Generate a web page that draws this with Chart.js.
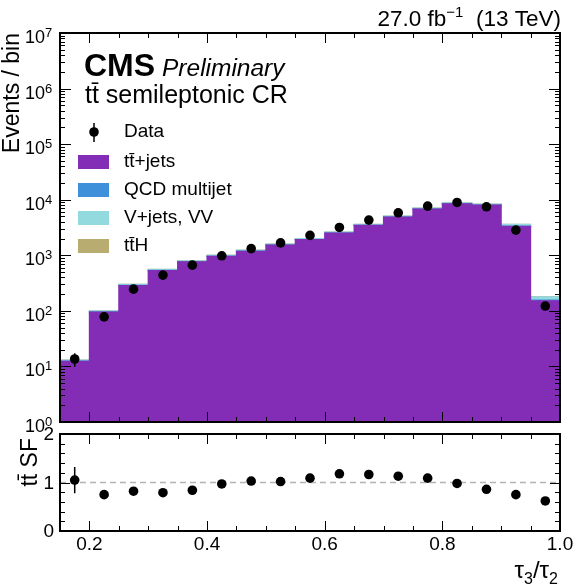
<!DOCTYPE html>
<html>
<head>
<meta charset="utf-8">
<script src="https://cdn.jsdelivr.net/npm/chart.js@4.4.1/dist/chart.umd.min.js"></script>
<style>
  body { margin: 0; background: #fff; }
  #wrap { position: relative; width: 580px; height: 588px; }
  canvas { position: absolute; left: 0; top: 0; }
</style>
</head>
<body>
<div id="wrap">
  <canvas id="main" width="580" height="588"></canvas>
  <canvas id="ratio" width="580" height="588"></canvas>
</div>
<script>
// tau3/tau2 bins, width 0.05, from 0.15 to 1.0
const binCenters = [0.175, 0.225, 0.275, 0.325, 0.375, 0.425, 0.475, 0.525, 0.575,
                    0.625, 0.675, 0.725, 0.775, 0.825, 0.875, 0.925, 0.975];

// stacked MC (events / bin)
const ttbarJets   = [12.4, 95, 286, 532, 760, 955, 1180, 1520, 1910, 2505, 3440, 4850, 6770, 8420, 7960, 3300, 152];
const qcdMultijet = [0.1, 0.8, 2, 4, 5, 6, 8, 10, 12, 15, 20, 28, 38, 45, 42, 30, 4];
const vJetsVV     = [0.5, 4, 11, 20, 29, 37, 45, 57, 75, 96, 135, 185, 255, 315, 310, 265, 23];
const ttHiggs     = [0.02, 0.2, 1, 1, 1, 2, 2, 3, 3, 4, 5, 7, 7, 10, 8, 5, 1];

// data
const dataCounts = [13.6, 78, 246, 440, 665, 980, 1320, 1670, 2280, 3170, 4300, 5820, 7670, 8920, 7450, 2840, 122];
const dataErr    = [3.7, 8.8, 15.7, 21, 25.8, 31.3, 36.3, 40.9, 47.7, 56.3, 65.6, 76.3, 87.6, 94.4, 86.3, 53.3, 11];

// ttbar scale factor panel
const sfValues = [1.05, 0.75, 0.82, 0.79, 0.84, 0.97, 1.03, 1.02, 1.09, 1.18, 1.165, 1.13, 1.09, 0.98, 0.86, 0.75, 0.62];
const sfErr    = [0.27, 0.09, 0.05, 0.04, 0.03, 0.03, 0.03, 0.03, 0.03, 0.02, 0.02, 0.02, 0.01, 0.01, 0.01, 0.02, 0.07];

const xTickValues = [0.2, 0.4, 0.6, 0.8, 1.0];
const xTickLabels = ['0.2', '0.4', '0.6', '0.8', '1.0'];
const ratioTickValues = [0, 1, 2];
const mainDecades = [0, 1, 2, 3, 4, 5, 6, 7];

const COLORS = { tt: '#832db6', qcd: '#3f90da', vj: '#92dadd', tth: '#b9ac70' };
const FAM = '"Liberation Sans", Arial, Helvetica, sans-serif';
const f = (size, style) => (style ? style + ' ' : '') + size + 'px ' + FAM;

function pts(vals) {
  return vals.map((v, i) => ({ x: binCenters[i], y: v }));
}

function drawXTicks(ctx, a, x) {
  ctx.beginPath();
  for (let k = 4; k <= 19; k++) {
    const px = Math.round(x.getPixelForValue(k * 0.05)) + 0.5;
    const len = (k % 4 === 0) ? 10 : 5;
    ctx.moveTo(px, a.bottom); ctx.lineTo(px, a.bottom - len);
    ctx.moveTo(px, a.top); ctx.lineTo(px, a.top + len);
  }
  ctx.stroke();
}

function drawYTick(ctx, a, py, len) {
  py = Math.round(py) + 0.5;
  ctx.moveTo(a.left, py); ctx.lineTo(a.left + len, py);
  ctx.moveTo(a.right, py); ctx.lineTo(a.right - len, py);
}

function drawFrame(ctx, a) {
  ctx.lineWidth = 2;
  ctx.strokeRect(a.left, a.top, a.right - a.left, a.bottom - a.top);
}

// draws a run of [text, kind] pieces, kind: 'n' normal, 'sup', 'sub'
function richText(ctx, pieces, x, y, size, align) {
  const parts = pieces.map(([t, k]) => {
    const s = k === 'n' ? size : Math.round(size * 0.68);
    ctx.font = f(s);
    return { t, k, s, w: ctx.measureText(t).width };
  });
  const total = parts.reduce((acc, p) => acc + p.w, 0);
  let cx = align === 'right' ? x - total : x;
  ctx.textAlign = 'left';
  ctx.textBaseline = 'alphabetic';
  parts.forEach(p => {
    ctx.font = f(p.s);
    const dy = p.k === 'sup' ? -size * 0.42 : p.k === 'sub' ? size * 0.25 : 0;
    ctx.fillText(p.t, cx, y + dy);
    cx += p.w;
  });
}

const mainDecor = {
  id: 'mainDecor',
  afterDatasetsDraw(chart) {
    const { ctx, scales: { x, y } } = chart;
    ctx.save();
    ctx.strokeStyle = '#000';
    ctx.lineWidth = 1.5;
    ctx.beginPath();
    dataCounts.forEach((v, i) => {
      const px = x.getPixelForValue(binCenters[i]);
      ctx.moveTo(px, y.getPixelForValue(v + dataErr[i]));
      ctx.lineTo(px, y.getPixelForValue(Math.max(v - dataErr[i], 1)));
    });
    ctx.stroke();
    ctx.restore();
  },
  afterDraw(chart) {
    const { ctx, chartArea: a, scales: { x, y } } = chart;
    ctx.save();
    ctx.strokeStyle = '#000';
    ctx.fillStyle = '#000';
    ctx.lineWidth = 1;
    drawXTicks(ctx, a, x);
    ctx.beginPath();
    for (let n = 0; n < 7; n++) {
      for (let m = 1; m <= 9; m++) {
        drawYTick(ctx, a, y.getPixelForValue(m * Math.pow(10, n)), m === 1 ? 11 : 5);
      }
    }
    ctx.stroke();
    drawFrame(ctx, a);

    // y tick labels 10^n
    mainDecades.forEach(n => {
      const py = y.getPixelForValue(Math.pow(10, n));
      ctx.font = f(18);
      ctx.textAlign = 'right';
      ctx.textBaseline = 'alphabetic';
      ctx.fillText('10', 45, py + 10);
      ctx.font = f(13);
      ctx.textAlign = 'left';
      ctx.fillText(String(n), 45, py + 4);
    });

    // y axis title
    ctx.save();
    ctx.translate(19, a.top);
    ctx.rotate(-Math.PI / 2);
    ctx.font = f(23);
    ctx.textAlign = 'right';
    ctx.textBaseline = 'alphabetic';
    ctx.fillText('Events / bin', 0, 0);
    ctx.restore();

    // luminosity label
    ctx.fillStyle = '#000';
    richText(ctx, [['27.0 fb', 'n'], ['\u22121', 'sup'], ['  (13 TeV)', 'n']], 561, 26, 22.5, 'right');

    // CMS label
    ctx.textAlign = 'left';
    ctx.textBaseline = 'alphabetic';
    ctx.font = f(32, 'bold');
    ctx.fillText('CMS', 84, 76);
    ctx.font = f(24.5, 'italic');
    ctx.fillText('Preliminary', 162, 76);
    ctx.font = f(25);
    ctx.fillText('tt\u0304 semileptonic CR', 85, 103);

    // legend
    ctx.beginPath();
    ctx.lineWidth = 1.5;
    ctx.moveTo(94, 123); ctx.lineTo(94, 142);
    ctx.stroke();
    ctx.beginPath();
    ctx.arc(94, 132, 4.8, 0, Math.PI * 2);
    ctx.fill();
    ctx.font = f(19);
    ctx.textBaseline = 'middle';
    ctx.fillText('Data', 124, 132);
    const rows = [
      [COLORS.tt, 'tt\u0304+jets', 162],
      [COLORS.qcd, 'QCD multijet', 190],
      [COLORS.vj, 'V+jets, VV', 218],
      [COLORS.tth, 'tt\u0304H', 246]
    ];
    rows.forEach(([c, label, cy]) => {
      ctx.fillStyle = c;
      ctx.fillRect(78, cy - 7, 31, 14);
      ctx.fillStyle = '#000';
      ctx.fillText(label, 124, cy);
    });
    ctx.restore();
  }
};

const ratioDecor = {
  id: 'ratioDecor',
  beforeDatasetsDraw(chart) {
    const { ctx, chartArea: a, scales: { y } } = chart;
    ctx.save();
    ctx.strokeStyle = '#b4b4b4';
    ctx.lineWidth = 1.5;
    ctx.setLineDash([6, 4]);
    const py = y.getPixelForValue(1);
    ctx.beginPath();
    ctx.moveTo(a.left, py); ctx.lineTo(a.right, py);
    ctx.stroke();
    ctx.restore();
  },
  afterDatasetsDraw(chart) {
    const { ctx, scales: { x, y } } = chart;
    ctx.save();
    ctx.strokeStyle = '#000';
    ctx.lineWidth = 1.5;
    ctx.beginPath();
    sfValues.forEach((v, i) => {
      const px = x.getPixelForValue(binCenters[i]);
      ctx.moveTo(px, y.getPixelForValue(v + sfErr[i]));
      ctx.lineTo(px, y.getPixelForValue(v - sfErr[i]));
    });
    ctx.stroke();
    ctx.restore();
  },
  afterDraw(chart) {
    const { ctx, chartArea: a, scales: { x, y } } = chart;
    ctx.save();
    ctx.strokeStyle = '#000';
    ctx.fillStyle = '#000';
    ctx.lineWidth = 1;
    drawXTicks(ctx, a, x);
    ctx.beginPath();
    for (let k = 1; k < 10; k++) {
      drawYTick(ctx, a, y.getPixelForValue(k * 0.2), k === 5 ? 10 : 5);
    }
    ctx.stroke();
    drawFrame(ctx, a);

    ctx.font = f(19);
    ctx.textAlign = 'right';
    ctx.textBaseline = 'middle';
    ratioTickValues.forEach(v => {
      ctx.fillText(String(v), 54, y.getPixelForValue(v) + 1);
    });

    ctx.textAlign = 'center';
    xTickValues.forEach((v, i) => {
      ctx.fillText(xTickLabels[i], x.getPixelForValue(v), 545);
    });

    // x axis title
    richText(ctx, [['\u03c4', 'n'], ['3', 'sub'], ['/\u03c4', 'n'], ['2', 'sub']], 558, 578, 24, 'right');

    // ratio y title
    ctx.save();
    ctx.translate(37, a.top + 4);
    ctx.rotate(-Math.PI / 2);
    ctx.font = f(23);
    ctx.textAlign = 'right';
    ctx.textBaseline = 'alphabetic';
    ctx.fillText('tt\u0304 SF', 0, 0);
    ctx.restore();
    ctx.restore();
  }
};

const barStyle = { borderWidth: 0, barPercentage: 1, categoryPercentage: 1, inflateAmount: 0.6, stack: 'mc' };

new Chart(document.getElementById('main'), {
  type: 'bar',
  data: {
    datasets: [
      { type: 'scatter', label: 'Data', data: pts(dataCounts), stack: 'data',
        pointRadius: 4.8, pointBackgroundColor: '#000', pointBorderWidth: 0 },
      { label: 'tt+jets', data: pts(ttbarJets), backgroundColor: COLORS.tt, ...barStyle },
      { label: 'QCD multijet', data: pts(qcdMultijet), backgroundColor: COLORS.qcd, ...barStyle },
      { label: 'V+jets, VV', data: pts(vJetsVV), backgroundColor: COLORS.vj, ...barStyle },
      { label: 'ttH', data: pts(ttHiggs), backgroundColor: COLORS.tth, ...barStyle }
    ]
  },
  options: {
    responsive: false,
    animation: false,
    events: [],
    layout: { padding: { left: 60, right: 20, top: 33, bottom: 166 } },
    plugins: { legend: { display: false }, tooltip: { enabled: false } },
    scales: {
      x: { type: 'linear', min: 0.15, max: 1.0, offset: false, stacked: true, display: false },
      y: { type: 'logarithmic', min: 1, max: 1e7, stacked: true, display: false }
    }
  },
  plugins: [mainDecor]
});

new Chart(document.getElementById('ratio'), {
  type: 'scatter',
  data: {
    datasets: [
      { label: 'tt SF', data: pts(sfValues), pointRadius: 4.8,
        pointBackgroundColor: '#000', pointBorderWidth: 0 }
    ]
  },
  options: {
    responsive: false,
    animation: false,
    events: [],
    layout: { padding: { left: 60, right: 20, top: 434, bottom: 57 } },
    plugins: { legend: { display: false }, tooltip: { enabled: false } },
    scales: {
      x: { type: 'linear', min: 0.15, max: 1.0, display: false },
      y: { type: 'linear', min: 0, max: 2, display: false }
    }
  },
  plugins: [ratioDecor]
});
</script>
</body>
</html>
